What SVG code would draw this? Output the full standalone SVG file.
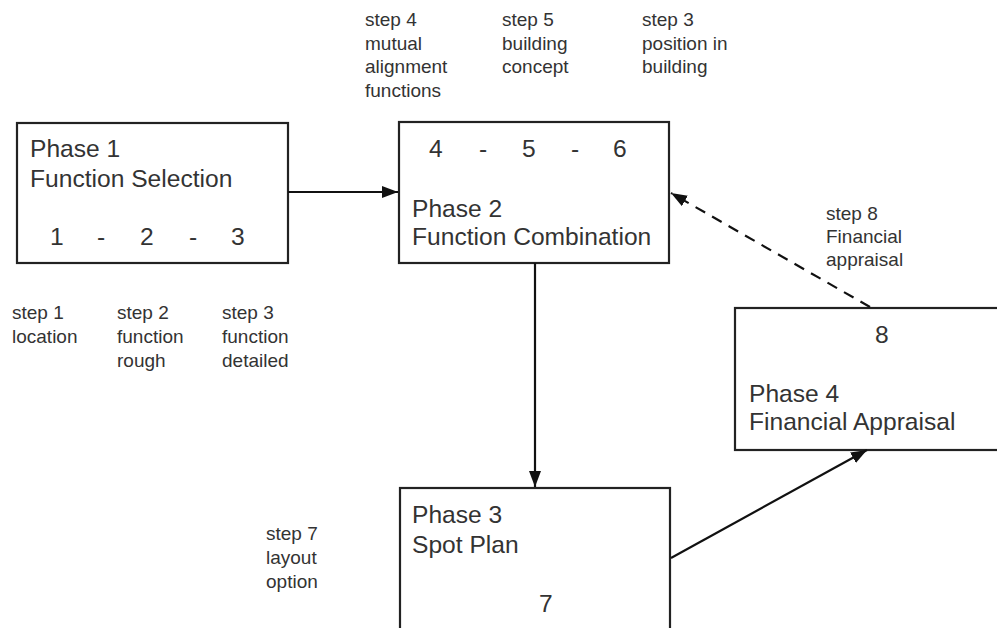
<svg xmlns="http://www.w3.org/2000/svg" width="997" height="628" viewBox="0 0 997 628">
<defs>
<style>
.box{fill:#fff;stroke:#222;stroke-width:2.2}
.big{font-family:"Liberation Sans",Arial,sans-serif;font-size:24.6px;fill:#333}
.small{font-family:"Liberation Sans",Arial,sans-serif;font-size:19px;fill:#333}
.edge{fill:none;stroke:#111;stroke-width:2.2}
.dash{stroke-dasharray:11 8}
</style>
<marker id="arr" markerUnits="userSpaceOnUse" markerWidth="18" markerHeight="14" refX="16" refY="6" orient="auto">
<path d="M0,0 L16,6 L0,12 Z" fill="#111"/>
</marker>
</defs>
<rect width="997" height="628" fill="#fff"/>

<g id="phase1">
<rect class="box" x="17" y="123" width="271" height="140"/>
<text class="big" x="30" y="157">Phase 1</text>
<text class="big" x="30" y="187">Function Selection</text>
<text class="big" y="245"><tspan x="50">1</tspan> <tspan x="97">-</tspan> <tspan x="140">2</tspan> <tspan x="189">-</tspan> <tspan x="231">3</tspan></text>
</g>

<g id="phase2">
<rect class="box" x="399" y="122" width="270" height="141"/>
<text class="big" y="157"><tspan x="429">4</tspan> <tspan x="479">-</tspan> <tspan x="522">5</tspan> <tspan x="571">-</tspan> <tspan x="613">6</tspan></text>
<text class="big" x="412" y="217">Phase 2</text>
<text class="big" x="412" y="245">Function Combination</text>
</g>

<g id="phase3">
<rect class="box" x="400" y="488" width="270" height="160"/>
<text class="big" x="412" y="523">Phase 3</text>
<text class="big" x="412" y="553">Spot Plan</text>
<text class="big" x="539" y="612">7</text>
</g>

<g id="phase4">
<rect class="box" x="735" y="308" width="270" height="142"/>
<text class="big" x="875" y="343">8</text>
<text class="big" x="749" y="402">Phase 4</text>
<text class="big" x="749" y="430">Financial Appraisal</text>
</g>

<g id="labels">
<text class="small"><tspan x="365" y="26">step 4</tspan><tspan x="365" y="49.5">mutual</tspan><tspan x="365" y="73">alignment</tspan><tspan x="365" y="96.5">functions</tspan></text>
<text class="small"><tspan x="502" y="26">step 5</tspan><tspan x="502" y="49.5">building</tspan><tspan x="502" y="73">concept</tspan></text>
<text class="small"><tspan x="642" y="26">step 3</tspan><tspan x="642" y="49.5">position in</tspan><tspan x="642" y="73">building</tspan></text>
<text class="small"><tspan x="12" y="319">step 1</tspan><tspan x="12" y="343">location</tspan></text>
<text class="small"><tspan x="117" y="319">step 2</tspan><tspan x="117" y="343">function</tspan><tspan x="117" y="367">rough</tspan></text>
<text class="small"><tspan x="222" y="319">step 3</tspan><tspan x="222" y="343">function</tspan><tspan x="222" y="367">detailed</tspan></text>
<text class="small"><tspan x="826" y="220">step 8</tspan><tspan x="826" y="243">Financial</tspan><tspan x="826" y="266">appraisal</tspan></text>
<text class="small"><tspan x="266" y="540">step 7</tspan><tspan x="266" y="564">layout</tspan><tspan x="266" y="588">option</tspan></text>
</g>

<g id="connectors">
<line class="edge" x1="288" y1="192" x2="398" y2="192" marker-end="url(#arr)"/>
<line class="edge" x1="535" y1="263" x2="535" y2="487" marker-end="url(#arr)"/>
<line class="edge" x1="671" y1="558" x2="867" y2="450" marker-end="url(#arr)"/>
<line class="edge dash" x1="870" y1="307" x2="671" y2="193" marker-end="url(#arr)"/>
</g>
</svg>
